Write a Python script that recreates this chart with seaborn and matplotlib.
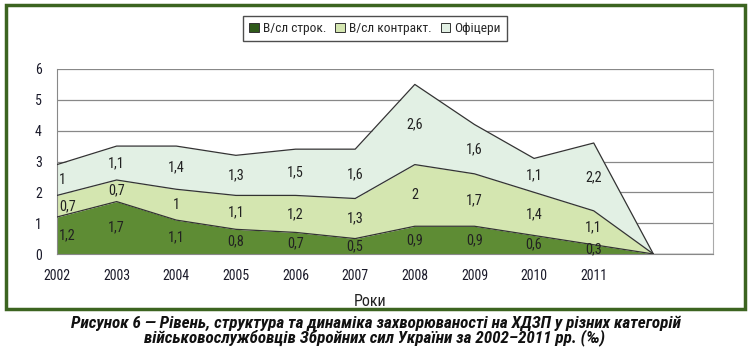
import numpy as np
import pandas as pd
import matplotlib
matplotlib.use("Agg")
import matplotlib.pyplot as plt
import seaborn as sns
from matplotlib.patches import Rectangle, Patch
from matplotlib import font_manager

years = [2002, 2003, 2004, 2005, 2006, 2007, 2008, 2009, 2010, 2011, 2012]
year_labels = ["2002", "2003", "2004", "2005", "2006", "2007", "2008", "2009", "2010", "2011", ""]
strok = [1.2, 1.7, 1.1, 0.8, 0.7, 0.5, 0.9, 0.9, 0.6, 0.3, 0]
kontrakt = [0.7, 0.7, 1.0, 1.1, 1.2, 1.3, 2.0, 1.7, 1.4, 1.1, 0]
ofitsery = [1.0, 1.1, 1.4, 1.3, 1.5, 1.6, 2.6, 1.6, 1.1, 2.2, 0]
series_names = ["В/сл строк.", "В/сл контракт.", "Офіцери"]
colors = ["#5e8c34", "#d4e6b0", "#e2f0e4"]
legend_colors = ["#2f5a1a", "#d4e6b0", "#e2f0e4"]

sns.set_style("white")
names = sorted({f.name for f in font_manager.fontManager.ttflist})
cands = [n for n in names if ("Narrow" in n or "Condensed" in n)]
pref = None
for p in ["Liberation Sans Narrow", "Roboto Condensed", "Open Sans Condensed",
          "DejaVu Sans Condensed"]:
    if p in names:
        pref = p
        break
if pref is None and cands:
    pref = cands[0]
narrow = pref if pref else "Liberation Sans"
scale = 1.0 if pref else 0.86
plt.rcParams["font.family"] = [narrow, "Liberation Sans", "DejaVu Sans"]

fig = plt.figure(figsize=(7.51, 3.52), dpi=100)
ax = fig.add_axes([57 / 751, 1 - 254 / 352, (713 - 57) / 751, (254 - 69) / 352])

df = pd.DataFrame({"year": years, "a": strok, "b": kontrakt, "c": ofitsery})
df["s1"] = df["a"]
df["s2"] = df["a"] + df["b"]
df["s3"] = df["s2"] + df["c"]

ax.fill_between(df["year"], 0, df["s1"], color=colors[0], lw=0, zorder=2)
ax.fill_between(df["year"], df["s1"], df["s2"], color=colors[1], lw=0, zorder=2)
ax.fill_between(df["year"], df["s2"], df["s3"], color=colors[2], lw=0, zorder=2)
for col in ["s1", "s2", "s3"]:
    sns.lineplot(data=df, x="year", y=col, ax=ax, color="#333333", lw=0.9, zorder=3)
ax.plot([2012, 2013], [0, 0], color="#333333", lw=0.9, zorder=3)

lab_fs = 10.3 * scale
for i, y in enumerate(years[:-1]):
    ha = "left" if i == 0 else "center"
    xo = y + 0.03 if i == 0 else y
    bases = [0, df["s1"][i], df["s2"][i]]
    vals = [strok[i], kontrakt[i], ofitsery[i]]
    for b, v in zip(bases, vals):
        txt = (f"{v:g}").replace(".", ",")
        ax.text(xo, b + v / 2, txt, ha=ha, va="center", fontsize=lab_fs,
                color="#222222", zorder=4)

ax.set_xlim(2002, 2013)
ax.set_ylim(0, 6)
ax.set_yticks(range(0, 7))
ax.set_xticks(years + [2013])
ax.set_xticklabels(year_labels + [""])
ax.tick_params(axis="both", labelsize=10 * scale, labelcolor="#1a1a2a", length=4,
               direction="out", width=0.8, color="#888888")
ax.tick_params(axis="x", pad=7)
ax.tick_params(axis="y", pad=7)
ax.grid(axis="y", color="#888888", lw=0.9, zorder=0)
ax.set_axisbelow(True)
ax.spines["top"].set_visible(False)
ax.spines["left"].set_color("#888888")
ax.spines["bottom"].set_color("#888888")
ax.spines["right"].set_visible(True)
ax.spines["right"].set_color("#aaaaaa")
ax.set_xlabel("")
ax.set_ylabel("")
fig.text(370 / 751, 1 - 301 / 352, "Роки", ha="center", va="center",
         fontsize=11.5 * scale, color="#222222")

handles = [Patch(facecolor=c, edgecolor="#333333", lw=0.7) for c in legend_colors]
leg = fig.legend(handles, series_names, loc="center", bbox_to_anchor=(375 / 751, 1 - 28.5 / 352),
                 ncol=3, frameon=True, fancybox=False, fontsize=9.6 * scale, handlelength=0.7,
                 handleheight=0.7, handletextpad=0.3, columnspacing=0.7, borderpad=0.45)
leg.get_frame().set_edgecolor("#222222")
leg.get_frame().set_linewidth(1.0)

fig.patches.append(Rectangle((6 / 751, 1 - 309 / 352), (745 - 6) / 751, (309 - 5) / 352,
                             transform=fig.transFigure, fill=False, edgecolor="#3c6420",
                             lw=2.5, zorder=10))

cap_fs = 12.3 * scale
fig.text(376 / 751, 1 - 323 / 352,
         "Рисунок 6 — Рівень, структура та динаміка захворюваності на ХДЗП у різних категорій",
         ha="center", va="center", fontsize=cap_fs, fontweight="bold", style="italic", color="#111111")
fig.text(374 / 751, 1 - 338 / 352,
         "військовослужбовців Збройних сил України за 2002–2011 рр. (‰)",
         ha="center", va="center", fontsize=cap_fs, fontweight="bold", style="italic", color="#111111")

fig.savefig("out.png", dpi=100)
